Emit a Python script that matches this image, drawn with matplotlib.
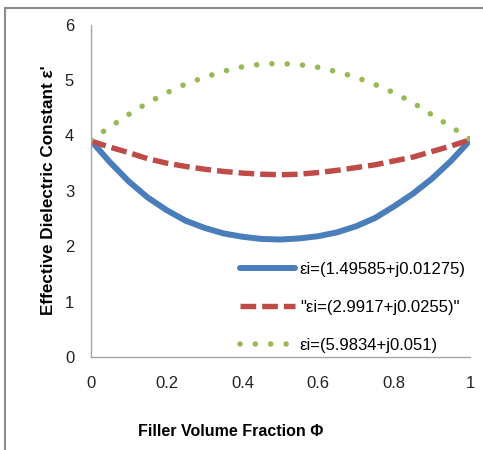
import matplotlib
matplotlib.use("Agg")
import matplotlib.pyplot as plt
from matplotlib.patches import Rectangle

plt.rcParams["font.family"] = ["Liberation Sans", "DejaVu Sans"]

# =========================
# data
# =========================
phi = [0.0, 0.05, 0.1, 0.15, 0.2, 0.25, 0.3, 0.35, 0.4, 0.45, 0.5,
       0.55, 0.6, 0.65, 0.7, 0.75, 0.8, 0.85, 0.9, 0.95, 1.0]

eps_a = [3.91, 3.52, 3.17, 2.88, 2.65, 2.46, 2.33, 2.23, 2.17, 2.13, 2.12,
         2.14, 2.18, 2.25, 2.36, 2.51, 2.72, 2.95, 3.22, 3.54, 3.91]
eps_b = [3.90, 3.79, 3.69, 3.58, 3.50, 3.44, 3.39, 3.35, 3.32, 3.30, 3.29,
         3.30, 3.33, 3.37, 3.42, 3.47, 3.54, 3.61, 3.71, 3.81, 3.92]
eps_c = [3.92, 4.15, 4.38, 4.59, 4.77, 4.93, 5.05, 5.16, 5.24, 5.29, 5.30,
         5.28, 5.23, 5.15, 5.05, 4.92, 4.77, 4.59, 4.37, 4.16, 3.93]

labels = ["εi=(1.49585+j0.01275)", "\"εi=(2.9917+j0.0255)\"", "εi=(5.9834+j0.051)"]
xticks = [0, 0.2, 0.4, 0.6, 0.8, 1]
yticks = [0, 1, 2, 3, 4, 5, 6]

fig = plt.figure(figsize=(4.83, 4.5), dpi=100)
ax = fig.add_axes([0.188, 0.207, 0.785, 0.738])

ax.plot(phi, eps_a, color="#4A7EBB", lw=4.3, solid_capstyle="round",
        solid_joinstyle="round", label=labels[0])
ax.plot(phi, eps_b, color="#BE4B48", lw=3.9, linestyle=(0, (2.9, 1.1)),
        dash_capstyle="butt", label=labels[1])
ax.plot(phi, eps_c, color="#98B954", lw=4.0, linestyle=(0, (0.01, 2.75)),
        dash_capstyle="round", label=labels[2])

ax.set_xlim(0, 1)
ax.set_ylim(0, 6)
ax.set_xticks(xticks)
ax.set_xticklabels([f"{v:g}" for v in xticks])
ax.set_yticks(yticks)
ax.tick_params(length=0, labelsize=12, colors="#222222")
ax.tick_params(axis="x", pad=14)
ax.tick_params(axis="y", pad=12)

for s in ["top", "right"]:
    ax.spines[s].set_visible(False)
for s in ["left", "bottom"]:
    ax.spines[s].set_color("#A6A6A6")
    ax.spines[s].set_linewidth(1.0)

fig.text(0.100, 0.578, "Effective Dielectric Constant ε'", fontsize=12.3, fontweight="bold",
         rotation=90, ha="center", va="center")
fig.text(0.478, 0.04, "Filler Volume Fraction Φ", fontsize=11.5, fontweight="bold",
         ha="center", va="center")

ax.legend(loc="center left", bbox_to_anchor=(0.393, 0.148), frameon=False,
          fontsize=12, handlelength=3.3, handletextpad=0.3, labelspacing=1.38,
          borderpad=0, borderaxespad=0)

# outer chart border (left and top visible)
fig.patches.append(Rectangle((0.010, -0.05), 1.2, 1.032, transform=fig.transFigure,
                             fill=False, edgecolor="#8C8C8C", lw=1.5))

fig.savefig("out.png", dpi=100)
